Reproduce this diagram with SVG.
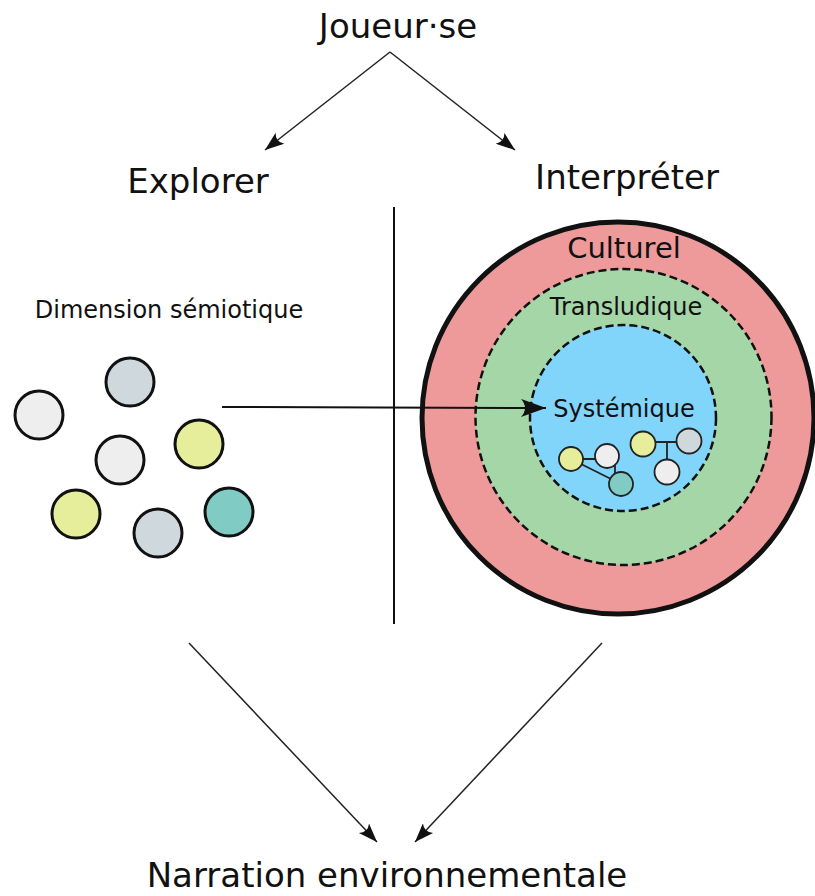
<svg xmlns="http://www.w3.org/2000/svg" width="815" height="896" viewBox="0 0 815 896">
<style>
text{font-family:"DejaVu Sans","Liberation Sans",sans-serif;fill:#111;text-anchor:middle}
.big{font-size:34px}
.mid{font-size:29px}
.sm{font-size:24px}
.conn{fill:none;stroke:#222;stroke-width:1.5}
.dot{stroke:#111;stroke-width:3}
.sdot{stroke:#222;stroke-width:1.8}
.link{stroke:#222;stroke-width:1.8;fill:none}
.dash{stroke:#111;stroke-width:2.5;stroke-dasharray:8,4}
</style>
<defs>
<marker id="ah" viewBox="-2 -7 22 14" refX="18" refY="0" markerWidth="22" markerHeight="14" markerUnits="userSpaceOnUse" orient="auto">
<path d="M18,0 L-1,-7 Q5,0 -1,7 Z" fill="#111"/>
</marker>
<marker id="ah2" viewBox="-2 -9 28 18" refX="24" refY="0" markerWidth="28" markerHeight="18" markerUnits="userSpaceOnUse" orient="auto">
<path d="M24,0 L-1,-9 Q7,0 -1,9 Z" fill="#111"/>
</marker>
</defs>

<g id="joueur"><text class="big" x="398" y="38">Joueur·se</text></g>
<g id="explorer"><text class="big" x="198" y="193">Explorer</text></g>
<g id="interpreter"><text class="big" x="627" y="189">Interpréter</text></g>
<g id="narration"><text class="big" x="387" y="887">Narration environnementale</text></g>

<g id="divider"><line x1="394" y1="207" x2="394" y2="624" stroke="#111" stroke-width="2"/></g>

<g id="semiotique">
<text class="sm" x="169" y="318">Dimension sémiotique</text>
<circle class="dot" cx="39" cy="415" r="24" fill="#eeeeee"/>
<circle class="dot" cx="130" cy="382" r="24" fill="#cfd8dc"/>
<circle class="dot" cx="120" cy="460" r="24" fill="#eeeeee"/>
<circle class="dot" cx="199" cy="444" r="24" fill="#e6ee9c"/>
<circle class="dot" cx="76" cy="514" r="24" fill="#e6ee9c"/>
<circle class="dot" cx="158" cy="533" r="24" fill="#cfd8dc"/>
<circle class="dot" cx="229" cy="512" r="24" fill="#80cbc4"/>
</g>

<g id="culturel">
<circle cx="618" cy="418" r="196" fill="#ef9a9a" stroke="#111" stroke-width="5"/>
<text class="mid" x="624" y="258">Culturel</text>
</g>
<g id="transludique">
<circle class="dash" cx="623.5" cy="417" r="148" fill="#a5d6a7"/>
<text class="sm" x="626" y="315">Transludique</text>
</g>
<g id="systemique">
<circle class="dash" cx="623" cy="418" r="93" fill="#81d4fa"/>
<text class="sm" x="624" y="417">Systémique</text>
<line class="link" x1="571" y1="459" x2="607" y2="459"/>
<line class="link" x1="571" y1="459" x2="621" y2="484"/>
<line class="link" x1="615" y1="462" x2="615" y2="480"/>
<circle class="sdot" cx="571" cy="459" r="12" fill="#e6ee9c"/>
<circle class="sdot" cx="607" cy="456" r="12" fill="#eeeeee"/>
<circle class="sdot" cx="621" cy="484" r="12" fill="#80cbc4"/>
<line class="link" x1="643" y1="442" x2="689" y2="442"/>
<line class="link" x1="667" y1="442" x2="667" y2="466"/>
<circle class="sdot" cx="643" cy="444" r="12.5" fill="#e6ee9c"/>
<circle class="sdot" cx="689" cy="441" r="12.5" fill="#cfd8dc"/>
<circle class="sdot" cx="667" cy="472" r="12.5" fill="#eeeeee"/>
</g>

<g id="connectors">
<path class="conn" d="M390,52 L265,150" marker-end="url(#ah)"/>
<path class="conn" d="M390,52 L515,150" marker-end="url(#ah)"/>
<path class="conn" d="M189,643 L377,842" marker-end="url(#ah)"/>
<path class="conn" d="M602,643 L415,842" marker-end="url(#ah)"/>
<path d="M222,407 L546,408" fill="none" stroke="#111" stroke-width="2" marker-end="url(#ah2)"/>
</g>
</svg>
